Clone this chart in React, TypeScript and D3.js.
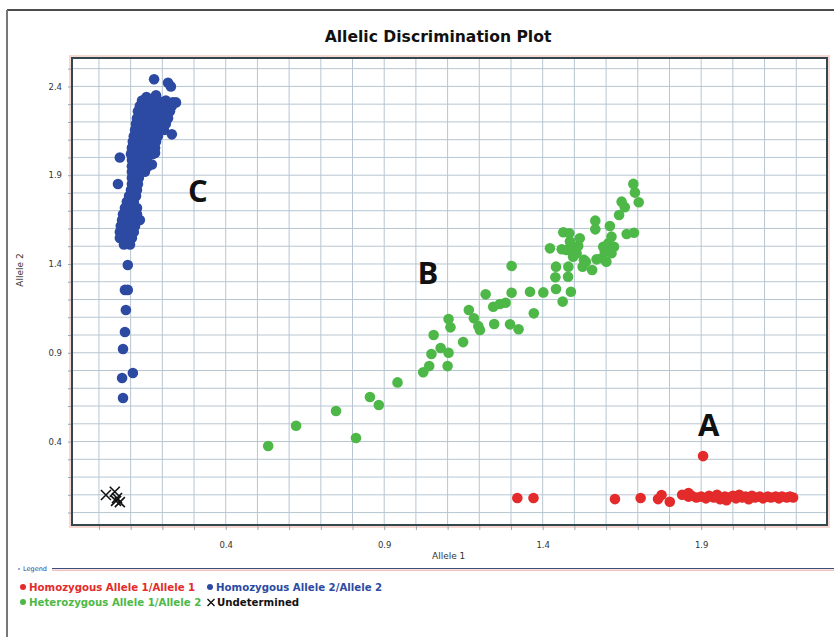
import React, { useRef, useEffect } from 'react';
import * as d3 from 'd3';

// Allele 1 / Allele 2 readings, one [x, y] pair per sample
const allele11: [number, number][] = [
  [1.32, 0.082], [1.371, 0.082], [1.628, 0.076], [1.709, 0.082], [1.764, 0.076], [1.775, 0.099],
  [1.801, 0.061], [1.906, 0.318],
  [1.84, 0.10], [1.86, 0.09], [1.87, 0.095], [1.885, 0.085], [1.90, 0.09], [1.915, 0.08],
  [1.925, 0.095], [1.94, 0.085], [1.95, 0.10], [1.96, 0.075], [1.975, 0.09], [1.985, 0.085],
  [2.0, 0.095], [2.01, 0.08], [2.02, 0.10], [2.03, 0.085], [2.04, 0.09], [2.05, 0.075],
  [2.06, 0.095], [2.07, 0.085], [2.085, 0.09], [2.095, 0.08], [2.11, 0.09], [2.12, 0.085],
  [2.135, 0.09], [2.145, 0.08], [2.155, 0.09], [2.17, 0.085], [2.18, 0.09], [2.19, 0.085],
  [1.86, 0.11], [1.98, 0.07]
];

const allele22: [number, number][] = [
  [0.174, 2.44], [0.218, 2.42], [0.227, 2.40], [0.243, 2.31], [0.23, 2.13], [0.066, 2.0],
  [0.06, 1.85], [0.167, 1.96], [0.177, 2.025],
  [0.15, 2.34], [0.18, 2.35],
  [0.136, 2.32], [0.161, 2.32], [0.186, 2.32], [0.211, 2.32], [0.233, 2.31],
  [0.129, 2.29], [0.155, 2.29], [0.18, 2.29], [0.205, 2.29], [0.23, 2.29],
  [0.123, 2.26], [0.148, 2.26], [0.174, 2.26], [0.199, 2.26], [0.224, 2.26],
  [0.12, 2.22], [0.145, 2.22], [0.17, 2.22], [0.196, 2.22], [0.218, 2.22],
  [0.117, 2.19], [0.142, 2.19], [0.167, 2.19], [0.192, 2.19], [0.211, 2.19],
  [0.114, 2.155], [0.139, 2.155], [0.164, 2.155], [0.189, 2.155], [0.205, 2.155],
  [0.11, 2.12], [0.136, 2.12], [0.161, 2.12], [0.186, 2.12],
  [0.107, 2.09], [0.132, 2.09], [0.158, 2.09], [0.18, 2.09],
  [0.104, 2.055], [0.129, 2.055], [0.155, 2.055], [0.177, 2.055],
  [0.101, 2.02], [0.126, 2.02], [0.151, 2.02], [0.17, 2.02],
  [0.104, 1.986], [0.129, 1.986], [0.151, 1.986],
  [0.104, 1.95], [0.129, 1.95], [0.155, 1.95],
  [0.104, 1.92], [0.126, 1.92], [0.145, 1.92],
  [0.104, 1.885], [0.126, 1.885],
  [0.104, 1.85], [0.123, 1.85],
  [0.101, 1.817], [0.12, 1.817],
  [0.095, 1.783], [0.117, 1.783],
  [0.088, 1.75], [0.11, 1.75],
  [0.082, 1.715], [0.104, 1.715], [0.12, 1.715],
  [0.076, 1.68], [0.098, 1.68], [0.12, 1.68],
  [0.073, 1.648], [0.095, 1.648], [0.117, 1.648], [0.129, 1.648],
  [0.069, 1.614], [0.091, 1.614], [0.114, 1.614],
  [0.066, 1.58], [0.088, 1.58], [0.11, 1.58],
  [0.066, 1.546], [0.085, 1.546], [0.104, 1.546],
  [0.079, 1.51], [0.098, 1.51],
  [0.091, 1.394], [0.082, 1.254], [0.091, 1.254], [0.085, 1.141], [0.082, 1.017],
  [0.076, 0.921], [0.107, 0.786], [0.073, 0.758], [0.076, 0.645]
];

const allele12: [number, number][] = [
  [0.534, 0.375], [0.622, 0.489], [0.748, 0.572], [0.811, 0.42], [0.855, 0.651], [0.883, 0.606],
  [0.942, 0.733], [1.023, 0.79], [1.042, 0.825], [1.049, 0.893], [1.056, 1.0], [1.078, 0.927],
  [1.103, 0.90], [1.10, 0.825], [1.103, 1.09], [1.109, 1.043], [1.149, 0.96], [1.167, 1.141],
  [1.183, 1.094], [1.197, 1.05], [1.202, 1.028], [1.22, 1.229], [1.244, 1.159], [1.247, 1.062],
  [1.265, 1.175], [1.283, 1.182], [1.297, 1.06], [1.302, 1.389], [1.302, 1.238], [1.324, 1.032],
  [1.36, 1.244], [1.372, 1.122], [1.402, 1.24], [1.423, 1.488], [1.442, 1.385], [1.44, 1.325],
  [1.442, 1.259], [1.463, 1.188], [1.465, 1.579], [1.46, 1.483], [1.481, 1.385], [1.48, 1.328],
  [1.489, 1.244], [1.484, 1.573], [1.486, 1.526], [1.475, 1.479], [1.496, 1.488], [1.507, 1.46],
  [1.496, 1.441], [1.517, 1.545], [1.512, 1.501], [1.53, 1.423], [1.526, 1.385], [1.536, 1.413],
  [1.556, 1.366], [1.566, 1.644], [1.566, 1.595], [1.57, 1.426], [1.586, 1.432], [1.591, 1.497],
  [1.601, 1.413], [1.612, 1.614], [1.617, 1.554], [1.607, 1.517], [1.625, 1.497], [1.596, 1.469],
  [1.617, 1.46], [1.641, 1.676], [1.649, 1.751], [1.659, 1.72], [1.665, 1.569], [1.688, 1.576],
  [1.686, 1.851], [1.691, 1.802], [1.703, 1.748]
];

const undetermined: [number, number][] = [
  [0.022, 0.099], [0.05, 0.117], [0.057, 0.082], [0.066, 0.059], [0.054, 0.066]
];

const clusterLabels = ['C', 'B', 'A'];
const clusterLabelPos: [number, number][] = [[0.312, 1.817], [1.038, 1.355], [1.924, 0.499]];

const xTickLabels = [0.4, 0.9, 1.4, 1.9];
const yTickLabels = [0.4, 0.9, 1.4, 1.9, 2.4];
const xGrid = [0, 0.1, 0.2, 0.3, 0.4, 0.5, 0.6, 0.7, 0.8, 0.9, 1.0, 1.1, 1.2, 1.3, 1.4, 1.5, 1.6, 1.7, 1.8, 1.9, 2.0, 2.1, 2.2];
const yGrid = [0, 0.1, 0.2, 0.3, 0.4, 0.5, 0.6, 0.7, 0.8, 0.9, 1.0, 1.1, 1.2, 1.3, 1.4, 1.5, 1.6, 1.7, 1.8, 1.9, 2.0, 2.1, 2.2, 2.3, 2.4, 2.5];

const RED = '#e42b2b';
const BLUE = '#2d4aa3';
const GREEN = '#4db848';

const App = () => {
  const ref = useRef<SVGSVGElement>(null);

  useEffect(() => {
    const svg = d3.select(ref.current);
    svg.selectAll('*').remove();

    const W = 834;
    const H = 637;
    const margin = { top: 58, right: 7, bottom: 112, left: 72 };
    const width = W - margin.left - margin.right;
    const height = H - margin.top - margin.bottom;

    // outer frame
    svg.append('line').attr('x1', 7).attr('x2', W).attr('y1', 10).attr('y2', 10)
      .attr('stroke', '#111').attr('stroke-width', 1.5);
    svg.append('line').attr('x1', 7).attr('x2', 7).attr('y1', 10).attr('y2', H)
      .attr('stroke', '#777').attr('stroke-width', 2);

    svg.append('text')
      .attr('x', 438).attr('y', 42)
      .attr('text-anchor', 'middle')
      .style('font-family', '"DejaVu Sans", sans-serif')
      .style('font-weight', 'bold')
      .style('font-size', '15.6px')
      .attr('fill', '#111')
      .text('Allelic Discrimination Plot');

    const g = svg.append('g').attr('transform', `translate(${margin.left},${margin.top})`);

    const x = d3.scaleLinear().domain([-0.085, 2.297]).range([0, width]);
    const y = d3.scaleLinear().domain([-0.07, 2.56]).range([height, 0]);

    // faint pink halo around the plot
    g.append('rect').attr('x', -2).attr('y', -2).attr('width', width + 4).attr('height', height + 4)
      .attr('fill', 'none').attr('stroke', '#f6d8d0').attr('stroke-width', 2);

    // gridlines
    g.append('g').selectAll('line').data(xGrid).enter().append('line')
      .attr('x1', d => x(d)).attr('x2', d => x(d)).attr('y1', 0).attr('y2', height)
      .attr('stroke', '#b7c6d2').attr('stroke-width', 1);
    g.append('g').selectAll('line').data(yGrid).enter().append('line')
      .attr('y1', d => y(d)).attr('y2', d => y(d)).attr('x1', 0).attr('x2', width)
      .attr('stroke', '#b7c6d2').attr('stroke-width', 1);

    const fmt = (d: number, labels: number[]) =>
      labels.some(l => Math.abs(l - d) < 1e-6) ? d3.format('.1f')(d) : '';

    const xAxis = g.append('g')
      .attr('transform', `translate(0,${height})`)
      .call(d3.axisBottom(x).tickValues(xGrid).tickSize(5).tickPadding(12)
        .tickFormat(d => fmt(+d, xTickLabels)));
    const yAxis = g.append('g')
      .call(d3.axisLeft(y).tickValues(yGrid).tickSize(4).tickPadding(6)
        .tickFormat(d => fmt(+d, yTickLabels)));
    [xAxis, yAxis].forEach(a => {
      a.select('.domain').remove();
      a.selectAll('line').attr('stroke', '#9aa8b2');
      a.selectAll('text')
        .style('font-family', '"DejaVu Sans", sans-serif')
        .style('font-size', '8.5px')
        .attr('fill', '#333');
    });

    // plot border
    g.append('rect').attr('width', width).attr('height', height)
      .attr('fill', 'none').attr('stroke', '#34474f').attr('stroke-width', 2);

    const drawDots = (data: [number, number][], color: string) => {
      g.append('g').selectAll('circle').data(data).enter().append('circle')
        .attr('cx', d => x(d[0])).attr('cy', d => y(d[1])).attr('r', 5.3)
        .attr('fill', color);
    };
    drawDots(allele22, BLUE);
    drawDots(allele12, GREEN);
    drawDots(allele11, RED);

    const cross = g.append('g').selectAll('g').data(undetermined).enter().append('g')
      .attr('transform', d => `translate(${x(d[0])},${y(d[1])})`);
    cross.append('path').attr('d', 'M-5,-5L5,5M-5,5L5,-5')
      .attr('stroke', '#111').attr('stroke-width', 1.6).attr('fill', 'none');

    g.append('g').selectAll('text').data(clusterLabels).enter().append('text')
      .attr('x', (d, i) => x(clusterLabelPos[i][0]))
      .attr('y', (d, i) => y(clusterLabelPos[i][1]))
      .attr('text-anchor', 'middle').attr('dominant-baseline', 'central')
      .style('font-family', '"Open Sans", sans-serif')
      .style('font-weight', 'bold').style('font-size', '31px')
      .attr('fill', '#111')
      .text(d => d);

    // axis titles
    svg.append('text').attr('x', 432).attr('y', 559)
      .style('font-family', '"DejaVu Sans", sans-serif').style('font-size', '9px')
      .attr('fill', '#333').text('Allele 1');
    svg.append('text').attr('transform', 'translate(23,270) rotate(-90)')
      .attr('text-anchor', 'middle')
      .style('font-family', '"DejaVu Sans", sans-serif').style('font-size', '9px')
      .attr('fill', '#333').text('Allele 2');

    // legend
    svg.append('text').attr('x', 23).attr('y', 571)
      .style('font-family', '"DejaVu Sans", sans-serif').style('font-size', '6.5px')
      .attr('fill', '#2a3f8f').text('Legend');
    svg.append('circle').attr('cx', 19).attr('cy', 569).attr('r', 0.8).attr('fill', '#2a3f8f');
    svg.append('line').attr('x1', 52).attr('x2', W).attr('y1', 568.5).attr('y2', 568.5)
      .attr('stroke', '#3a4f7a').attr('stroke-width', 1);
    svg.append('line').attr('x1', 52).attr('x2', W).attr('y1', 570.2).attr('y2', 570.2)
      .attr('stroke', '#e58a8a').attr('stroke-width', 0.8);

    const legendItems = [
      { label: 'Homozygous Allele 1/Allele 1', color: RED, lx: 23, ly: 586, mark: 'dot' },
      { label: 'Homozygous Allele 2/Allele 2', color: BLUE, lx: 210, ly: 586, mark: 'dot' },
      { label: 'Heterozygous Allele 1/Allele 2', color: GREEN, lx: 23, ly: 601, mark: 'dot' },
      { label: 'Undetermined', color: '#111', lx: 211, ly: 601, mark: 'x' }
    ];
    const leg = svg.append('g').selectAll('g').data(legendItems).enter().append('g')
      .attr('transform', d => `translate(${d.lx},${d.ly})`);
    leg.filter(d => d.mark === 'dot').append('circle')
      .attr('cx', 0).attr('cy', 1).attr('r', 3).attr('fill', d => d.color);
    leg.filter(d => d.mark === 'x').append('path')
      .attr('d', 'M-3.5,-2L3.5,5M-3.5,5L3.5,-2').attr('stroke', '#111').attr('stroke-width', 1.4);
    leg.append('text').attr('x', 6).attr('y', 4.5)
      .style('font-family', '"DejaVu Sans", sans-serif')
      .style('font-weight', 'bold').style('font-size', '10.2px')
      .attr('fill', d => d.color)
      .text(d => d.label);
  }, []);

  return (
    <div style={{ position: 'absolute', left: 0, top: 0, background: '#fff' }}>
      <svg ref={ref} width={834} height={637} style={{ display: 'block' }} />
    </div>
  );
};

export default App;
